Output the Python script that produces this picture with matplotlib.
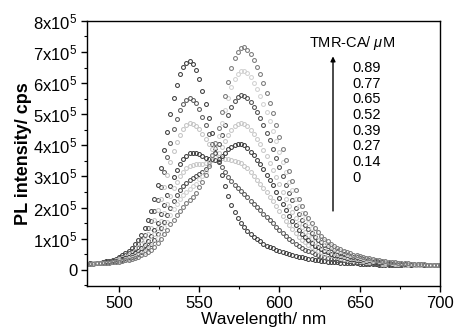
import numpy as np
import matplotlib
matplotlib.use('Agg')
import matplotlib.pyplot as plt
from matplotlib.ticker import MultipleLocator, FuncFormatter

plt.rcParams['font.family'] = ['Liberation Sans', 'DejaVu Sans']
plt.rcParams['mathtext.fontset'] = 'custom'
plt.rcParams['mathtext.rm'] = 'Liberation Sans'
plt.rcParams['mathtext.it'] = 'Liberation Sans:italic'

# wavelength grid (nm), one reading every 2 nm
wavelength = np.arange(480, 701, 2)

# PL intensity readings, units of 1e5 cps, one list per TMR-CA concentration
pl_000 = [.20, .21, .21, .22, .23, .25, .27, .29, .32, .36,
          .41, .46, .53, .60, .70, .82, .96, 1.13, 1.34, 1.60,
          1.89, 2.28, 2.74, 3.26, 3.84, 4.43, 5.01, 5.53, 5.95, 6.28,
          6.51, 6.64, 6.70, 6.60, 6.41, 6.12, 5.76, 5.34, 4.88, 4.39,
          3.91, 3.45, 3.06, 2.70, 2.38, 2.09, 1.86, 1.66, 1.50, 1.37,
          1.26, 1.14, 1.06, .98, .91, .84, .78, .73, .69, .64,
          .60, .56, .53, .50, .47, .45, .42, .40, .38, .36,
          .34, .31, .30, .28, .27, .26, .25, .24, .24, .23,
          .23, .22, .21, .21, .21, .20, .20, .19, .19, .19,
          .19, .16, .16, .16, .16, .15, .15, .15, .15, .15,
          .15, .15, .15, .15, .15, .15, .15, .15, .15, .15,
          .15]
pl_014 = [.20, .21, .21, .22, .23, .24, .25, .27, .30, .33,
          .37, .41, .47, .53, .61, .70, .82, .95, 1.12, 1.33,
          1.57, 1.88, 2.25, 2.67, 3.14, 3.62, 4.09, 4.52, 4.86, 5.14,
          5.33, 5.45, 5.53, 5.47, 5.35, 5.16, 4.92, 4.65, 4.36, 4.05,
          3.76, 3.50, 3.30, 3.13, 2.98, 2.84, 2.73, 2.62, 2.52, 2.43,
          2.33, 2.21, 2.11, 2.01, 1.91, 1.80, 1.70, 1.60, 1.50, 1.39,
          1.29, 1.19, 1.09, 1.00, .92, .84, .77, .71, .65, .60,
          .56, .50, .47, .43, .41, .39, .36, .34, .33, .31,
          .30, .28, .27, .26, .25, .24, .24, .23, .22, .22,
          .21, .19, .18, .18, .18, .17, .17, .17, .17, .16,
          .16, .16, .16, .15, .15, .15, .15, .15, .15, .15,
          .15]
pl_027 = [.20, .20, .21, .22, .22, .23, .25, .26, .29, .31,
          .34, .38, .42, .48, .54, .62, .72, .83, .97, 1.15,
          1.34, 1.60, 1.91, 2.26, 2.65, 3.05, 3.45, 3.81, 4.11, 4.34,
          4.52, 4.64, 4.71, 4.69, 4.62, 4.52, 4.37, 4.21, 4.04, 3.89,
          3.74, 3.64, 3.59, 3.57, 3.55, 3.53, 3.51, 3.47, 3.42, 3.35,
          3.26, 3.14, 3.03, 2.90, 2.77, 2.64, 2.49, 2.35, 2.20, 2.04,
          1.88, 1.72, 1.57, 1.43, 1.30, 1.18, 1.07, .97, .89, .81,
          .74, .66, .61, .57, .52, .49, .46, .43, .40, .38,
          .36, .34, .32, .31, .30, .28, .27, .26, .25, .24,
          .24, .21, .20, .20, .19, .18, .18, .18, .18, .17,
          .17, .17, .16, .16, .16, .16, .16, .16, .15, .15,
          .15]
pl_039 = [.20, .20, .21, .21, .22, .23, .24, .25, .27, .29,
          .31, .34, .37, .42, .47, .53, .60, .69, .80, .93,
          1.08, 1.28, 1.51, 1.78, 2.08, 2.39, 2.70, 2.98, 3.22, 3.41,
          3.56, 3.67, 3.75, 3.76, 3.74, 3.71, 3.65, 3.60, 3.56, 3.53,
          3.53, 3.57, 3.66, 3.76, 3.87, 3.95, 4.02, 4.04, 4.04, 4.00,
          3.91, 3.80, 3.68, 3.54, 3.40, 3.24, 3.06, 2.89, 2.71, 2.51,
          2.31, 2.11, 1.92, 1.74, 1.58, 1.43, 1.28, 1.16, 1.05, .96,
          .87, .78, .72, .66, .61, .57, .52, .49, .46, .43,
          .40, .38, .36, .34, .32, .31, .30, .28, .27, .26,
          .25, .22, .22, .21, .20, .20, .19, .19, .18, .18,
          .18, .17, .17, .17, .17, .16, .16, .16, .16, .16,
          .16]
pl_052 = [.20, .20, .21, .21, .22, .22, .23, .24, .26, .28,
          .30, .32, .35, .39, .43, .49, .55, .63, .72, .84,
          .96, 1.14, 1.34, 1.57, 1.83, 2.10, 2.37, 2.62, 2.83, 3.01,
          3.15, 3.26, 3.34, 3.37, 3.39, 3.41, 3.41, 3.42, 3.46, 3.53,
          3.62, 3.76, 3.94, 4.14, 4.34, 4.50, 4.63, 4.69, 4.72, 4.70,
          4.61, 4.49, 4.36, 4.21, 4.04, 3.85, 3.65, 3.44, 3.22, 2.98,
          2.75, 2.51, 2.28, 2.06, 1.87, 1.68, 1.51, 1.36, 1.23, 1.12,
          1.01, .90, .83, .76, .70, .65, .60, .55, .51, .48,
          .45, .42, .39, .37, .36, .34, .32, .31, .29, .28,
          .27, .24, .23, .22, .22, .21, .20, .20, .19, .19,
          .19, .18, .17, .17, .17, .17, .16, .16, .16, .16,
          .16]
pl_065 = [.20, .20, .20, .21, .22, .22, .23, .24, .25, .27,
          .28, .31, .33, .36, .40, .44, .50, .56, .63, .73,
          .83, .97, 1.14, 1.33, 1.55, 1.77, 1.99, 2.21, 2.39, 2.55,
          2.69, 2.79, 2.89, 2.95, 3.00, 3.09, 3.15, 3.25, 3.39, 3.56,
          3.76, 4.03, 4.34, 4.65, 4.96, 5.22, 5.43, 5.54, 5.61, 5.60,
          5.52, 5.39, 5.24, 5.06, 4.87, 4.64, 4.40, 4.16, 3.89, 3.60,
          3.31, 3.02, 2.73, 2.47, 2.24, 2.00, 1.79, 1.61, 1.45, 1.32,
          1.19, 1.06, .97, .88, .81, .75, .69, .63, .59, .55,
          .51, .48, .44, .42, .40, .37, .35, .34, .32, .30,
          .29, .26, .25, .24, .23, .22, .21, .21, .20, .20,
          .19, .19, .18, .18, .18, .17, .17, .17, .16, .16,
          .16]
pl_077 = [.20, .20, .20, .21, .21, .22, .23, .23, .25, .26,
          .28, .29, .32, .34, .37, .41, .46, .51, .58, .66,
          .75, .87, 1.01, 1.18, 1.36, 1.55, 1.75, 1.94, 2.11, 2.26,
          2.39, 2.50, 2.61, 2.68, 2.77, 2.91, 3.02, 3.19, 3.40, 3.66,
          3.95, 4.31, 4.72, 5.13, 5.53, 5.87, 6.14, 6.29, 6.39, 6.40,
          6.31, 6.18, 6.01, 5.82, 5.59, 5.34, 5.06, 4.78, 4.47, 4.14,
          3.80, 3.47, 3.13, 2.83, 2.56, 2.29, 2.04, 1.83, 1.65, 1.50,
          1.34, 1.20, 1.09, .99, .91, .84, .77, .71, .65, .60,
          .56, .52, .49, .46, .43, .41, .38, .36, .35, .33,
          .31, .28, .27, .26, .25, .23, .23, .22, .21, .21,
          .20, .19, .19, .18, .18, .18, .17, .17, .17, .17,
          .17]
pl_089 = [.20, .20, .20, .21, .21, .21, .22, .23, .24, .25,
          .26, .28, .30, .32, .34, .38, .41, .46, .51, .57,
          .64, .74, .85, .99, 1.14, 1.29, 1.46, 1.61, 1.76, 1.90,
          2.03, 2.14, 2.25, 2.35, 2.47, 2.65, 2.83, 3.06, 3.35, 3.70,
          4.09, 4.55, 5.06, 5.57, 6.05, 6.47, 6.80, 7.00, 7.13, 7.16,
          7.07, 6.93, 6.75, 6.53, 6.28, 6.00, 5.69, 5.37, 5.03, 4.65,
          4.27, 3.89, 3.52, 3.17, 2.86, 2.56, 2.28, 2.04, 1.84, 1.66,
          1.49, 1.33, 1.21, 1.10, 1.00, .92, .84, .78, .71, .66,
          .61, .57, .53, .49, .47, .44, .41, .39, .37, .35,
          .33, .30, .29, .27, .26, .24, .24, .23, .22, .22,
          .21, .20, .20, .19, .19, .18, .17, .17, .17, .17,
          .17]

conc_labels = ['0.89', '0.77', '0.65', '0.52', '0.39', '0.27', '0.14', '0']
series = [pl_000, pl_014, pl_027, pl_039, pl_052, pl_065, pl_077, pl_089]
colors = ['#3c3c3c', '#5a5a5a', '#c4c4c4', '#3a3a3a',
          '#c8c8c8', '#4e4e4e', '#d2d2d2', '#7a7a7a']

fig = plt.figure(figsize=(4.55, 3.31), dpi=100)
ax = fig.add_axes([0.191, 0.136, 0.776, 0.801])

for vals, c in zip(series, colors):
    ax.plot(wavelength, np.array(vals) * 1e5, 'o', ls='none', ms=2.8,
            mfc='none', mec=c, mew=0.75)

ax.set_xlim(480, 700)
ax.set_ylim(-0.52e5, 8e5)
ax.xaxis.set_major_locator(MultipleLocator(50))
ax.xaxis.set_minor_locator(MultipleLocator(25))
ax.yaxis.set_major_locator(MultipleLocator(1e5))
ax.yaxis.set_minor_locator(MultipleLocator(0.5e5))

def ylab(v, pos):
    n = int(round(v / 1e5))
    if n == 0:
        return '0'
    return '%dx10$^{5}$' % n

ax.yaxis.set_major_formatter(FuncFormatter(ylab))
ax.tick_params(which='both', direction='out', top=False, right=False)
ax.tick_params(which='major', length=4, width=1, labelsize=12, pad=3)
ax.tick_params(which='minor', length=2, width=0.8)
for s in ax.spines.values():
    s.set_linewidth(1)

ax.set_xlabel('Wavelength/ nm', fontsize=12.5, labelpad=1)
ax.set_ylabel('PL intensity/ cps', fontsize=13, fontweight='bold', labelpad=1)

# concentration key with arrow
ax.text(0.751, 0.917, r'TMR-CA/ $\mu$M', transform=ax.transAxes,
        ha='center', va='center', fontsize=10.5,
        bbox=dict(facecolor='white', edgecolor='none', pad=3))
ax.annotate('', xy=(0.697, 0.866), xytext=(0.697, 0.283),
            xycoords='axes fraction', textcoords='axes fraction',
            arrowprops=dict(arrowstyle='-|>', color='black', lw=1,
                            mutation_scale=7, shrinkA=0, shrinkB=0))
for i, lab in enumerate(conc_labels):
    ax.text(0.751, 0.823 - i * 0.0593, lab, transform=ax.transAxes,
            ha='left', va='center', fontsize=10.5)

fig.savefig('out.png', dpi=100)
